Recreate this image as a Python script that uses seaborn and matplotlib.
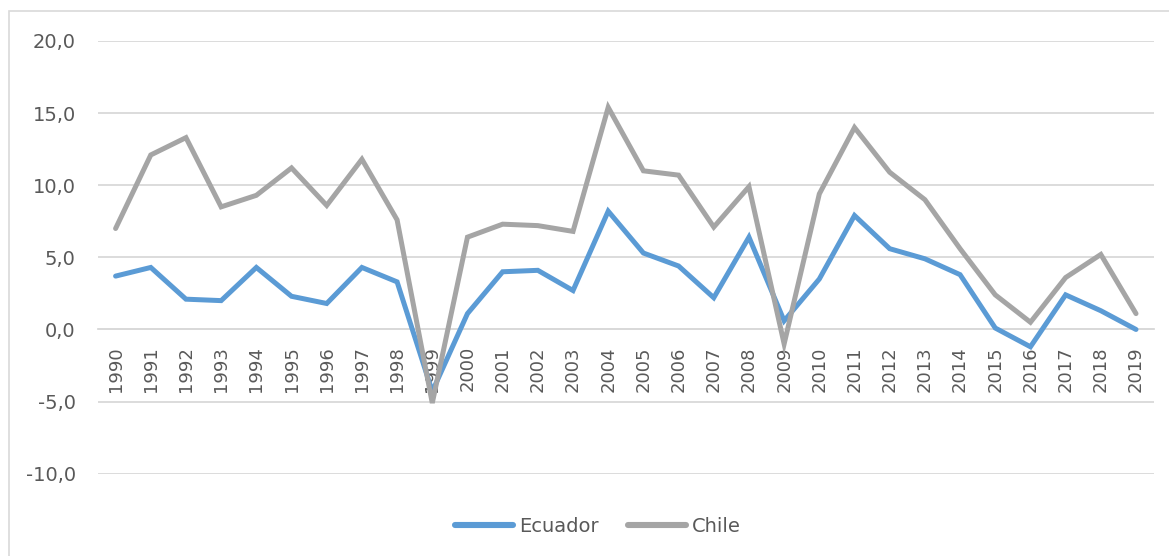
import matplotlib
matplotlib.use("Agg")
import matplotlib.pyplot as plt
import seaborn as sns
import pandas as pd
from matplotlib.patches import Rectangle
from matplotlib.lines import Line2D

years = [str(y) for y in range(1990, 2020)]
ecuador = [3.7, 4.3, 2.1, 2.0, 4.3, 2.3, 1.8, 4.3, 3.3, -4.3,
           1.1, 4.0, 4.1, 2.7, 8.2, 5.3, 4.4, 2.2, 6.4, 0.6,
           3.5, 7.9, 5.6, 4.9, 3.8, 0.1, -1.2, 2.4, 1.3, 0.0]
chile = [7.0, 12.1, 13.3, 8.5, 9.3, 11.2, 8.6, 11.8, 7.6, -5.1,
         6.4, 7.3, 7.2, 6.8, 15.4, 11.0, 10.7, 7.1, 9.9, -1.0,
         9.4, 14.0, 10.9, 9.0, 5.6, 2.4, 0.5, 3.6, 5.2, 1.1]
series_names = ["Ecuador", "Chile"]
colors = {"Ecuador": "#5B9BD5", "Chile": "#A5A5A5"}
yticks = [-10, -5, 0, 5, 10, 15, 20]

df = pd.DataFrame({
    "year": years * 2,
    "value": ecuador + chile,
    "country": ["Ecuador"] * len(years) + ["Chile"] * len(years),
})

sns.set_style("white")
plt.rcParams["font.family"] = ["DejaVu Sans"]
txt = "#595959"

fig = plt.figure(figsize=(11.69, 5.56), dpi=100)
ax = fig.add_axes([98 / 1169, 1 - 473.7 / 556, (1153.6 - 98) / 1169, (473.7 - 41) / 556])

# chart frame
fig.patches.append(Rectangle((9 / 1169, -0.1), 1.2, 1.1 - 11 / 556, transform=fig.transFigure,
                             fill=False, edgecolor="#D9D9D9", linewidth=1.2, zorder=0))

sns.lineplot(data=df, x="year", y="value", hue="country", hue_order=series_names,
             palette=colors, linewidth=3.6, ax=ax, legend=False, sort=False,
             solid_joinstyle="miter", solid_capstyle="round")

ax.set_xlim(-0.5, len(years) - 0.5)
ax.set_ylim(-10, 20)
ax.set_yticks(yticks)
ax.set_yticklabels([f"{v:.1f}".replace(".", ",") for v in yticks], fontsize=14, color=txt)
ax.yaxis.grid(True, color="#D9D9D9", linewidth=1.3)
ax.set_axisbelow(True)
for s in ["top", "right", "left"]:
    ax.spines[s].set_visible(False)
ax.spines["bottom"].set_position(("data", 0))
ax.spines["bottom"].set_color("#D9D9D9")
ax.spines["bottom"].set_linewidth(1.3)
ax.spines["bottom"].set_zorder(0.5)
ax.tick_params(axis="x", length=0, pad=12, labelsize=13, labelcolor=txt, rotation=90)
ax.tick_params(axis="y", length=0, pad=16)
ax.set_xlabel("")
ax.set_ylabel("")

handles = [Line2D([0], [0], color=colors[n], linewidth=4.4, solid_capstyle="round") for n in series_names]
fig.legend(handles, series_names, loc="center", bbox_to_anchor=(598 / 1169, 1 - 526 / 556),
           ncol=2, frameon=False, fontsize=14, labelcolor=txt, handlelength=3.0,
           handletextpad=0.3, columnspacing=1.5)

fig.savefig("out.png", dpi=100, facecolor="white")
